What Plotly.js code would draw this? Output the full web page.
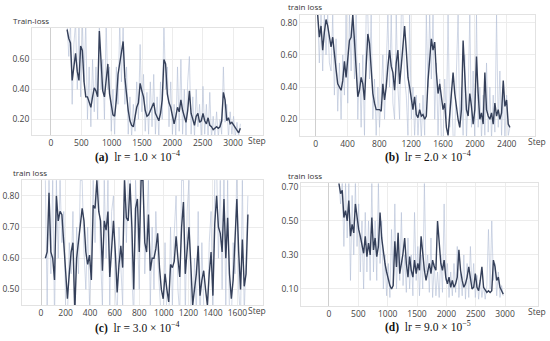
<!DOCTYPE html>
<html><head><meta charset="utf-8">
<script src="https://cdn.plot.ly/plotly-3.0.1.min.js"></script>
<style>html,body{margin:0;padding:0;background:#fff}#c{width:550px;height:341px}</style>
</head><body><div id="c"></div>
<script>
// ---------- data ----------
const stepsA = [265,293,321,349,377,405,433,461,489,517,545,573,601,629,657,685,713,741,769,797,825,853,881,909,937,965,993,1021,1049,1077,1105,1133,1161,1189,1217,1245,1273,1301,1329,1357,1385,1413,1441,1469,1497,1525,1553,1581,1609,1637,1665,1693,1721,1749,1777,1805,1833,1861,1889,1917,1945,1973,2001,2029,2057,2085,2113,2141,2169,2197,2225,2253,2281,2309,2337,2365,2393,2421,2449,2477,2505,2533,2561,2589,2617,2645,2673,2701,2729,2757,2785,2813,2841,2869,2897,2925,2953,2981,3009,3037,3065,3093,3121];
const smoothA = [0.80,0.74,0.71,0.46,0.55,0.64,0.52,0.46,0.69,0.66,0.45,0.35,0.35,0.31,0.28,0.35,0.41,0.39,0.35,0.79,
0.55,0.39,0.35,0.46,0.57,0.37,0.28,0.23,0.22,0.33,0.50,0.57,0.64,0.72,0.48,0.35,0.26,0.19,0.16,0.15,
0.22,0.28,0.31,0.44,0.39,0.35,0.26,0.22,0.23,0.26,0.28,0.31,0.24,0.21,0.19,0.24,0.33,0.60,0.57,0.37,
0.31,0.28,0.23,0.17,0.22,0.28,0.25,0.33,0.26,0.22,0.18,0.26,0.39,0.24,0.19,0.16,0.22,0.24,0.18,0.19,
0.24,0.19,0.17,0.21,0.16,0.15,0.13,0.14,0.15,0.14,0.15,0.19,0.38,0.33,0.19,0.21,0.17,0.18,0.16,0.14,0.13,0.11,0.14];
const rawA = [0.85,0.62,0.85,0.30,0.70,0.85,0.40,0.85,0.35,0.85,0.45,0.85,0.20,0.55,0.15,0.60,0.25,0.55,0.20,0.85,
0.40,0.60,0.20,0.85,0.40,0.55,0.12,0.40,0.10,0.55,0.30,0.85,0.45,0.85,0.30,0.55,0.10,0.35,0.08,0.30,
0.12,0.45,0.20,0.70,0.25,0.50,0.12,0.38,0.10,0.45,0.15,0.50,0.10,0.35,0.08,0.45,0.20,0.85,0.40,0.55,
0.15,0.45,0.10,0.30,0.08,0.55,0.12,0.60,0.10,0.40,0.08,0.45,0.62,0.10,0.35,0.08,0.40,0.15,0.30,0.08,
0.42,0.10,0.30,0.08,0.38,0.07,0.22,0.08,0.25,0.08,0.20,0.10,0.55,0.18,0.30,0.08,0.25,0.10,0.22,0.08,0.18,0.08,0.17];

const stepsB = [25,46,67,88,109,130,151,172,193,214,235,256,277,298,319,340,361,382,403,424,445,466,487,508,529,550,571,592,613,634,655,676,697,718,739,760,781,802,823,844,865,886,907,928,949,970,991,1012,1033,1054,1075,1096,1117,1138,1159,1180,1201,1222,1243,1264,1285,1306,1327,1348,1369,1390,1411,1432,1453,1474,1495,1516,1537,1558,1579,1600,1621,1642,1663,1684,1705,1726,1747,1768,1789,1810,1831,1852,1873,1894,1915,1936,1957,1978,1999,2020,2041,2062,2083,2104,2125,2146,2167,2188,2209,2230,2251,2272,2293,2314,2335,2356,2377,2398,2419,2440];
const smoothB = [0.85,0.71,0.78,0.63,0.74,0.82,0.78,0.71,0.65,0.71,0.59,0.51,0.42,0.40,0.38,0.44,0.56,0.46,0.59,0.69,
0.71,0.85,0.69,0.53,0.34,0.38,0.46,0.42,0.32,0.53,0.73,0.67,0.53,0.36,0.30,0.26,0.26,0.26,0.25,0.42,
0.32,0.40,0.53,0.63,0.53,0.49,0.38,0.55,0.63,0.42,0.53,0.67,0.78,0.63,0.46,
0.40,0.32,0.26,0.34,0.23,0.21,0.26,0.22,0.23,0.20,0.22,0.44,0.59,0.70,0.63,0.68,0.49,0.36,0.42,0.32,
0.26,0.30,0.15,0.10,0.22,0.32,0.49,0.36,0.26,0.20,0.15,0.26,0.69,0.42,0.26,0.22,0.36,0.28,0.17,0.26,
0.59,0.36,0.20,0.24,0.17,0.49,0.26,0.22,0.20,0.24,0.17,0.30,0.22,0.26,0.20,0.24,0.44,0.28,0.32,0.17,0.15];
const rawB = [0.85,0.55,0.85,0.50,0.85,0.60,0.85,0.55,0.50,0.85,0.35,0.70,0.25,0.55,0.20,0.60,0.35,0.85,0.30,0.85,
0.50,0.85,0.45,0.85,0.20,0.55,0.15,0.60,0.10,0.85,0.85,0.45,0.85,0.20,0.45,0.10,0.40,0.15,0.35,0.60,
0.20,0.55,0.85,0.40,0.85,0.30,0.20,0.85,0.40,0.20,0.85,0.85,0.45,0.35,0.10,0.85,0.20,0.40,0.10,0.35,
0.10,0.30,0.08,0.35,0.10,0.85,0.40,0.85,0.45,0.85,0.20,0.55,0.10,0.45,0.08,0.05,0.45,0.20,0.85,0.15,
0.40,0.10,0.08,0.50,0.85,0.15,0.40,0.10,0.60,0.08,0.35,0.85,0.15,0.50,0.08,0.85,0.15,0.40,0.08,0.35,
0.10,0.55,0.12,0.40,0.08,0.35,0.12,0.85,0.15,0.50,0.10,0.40,0.08,0.35,0.10,0.15];

const stepsC = [35,50,65,80,95,110,125,140,155,170,185,200,215,230,245,260,275,290,305,320,335,350,365,380,395,410,425,440,455,470,485,500,515,530,545,560,575,590,605,620,635,650,665,680,695,710,725,740,755,770,785,800,815,830,845,860,875,890,905,920,935,950,965,980,995,1010,1025,1040,1055,1070,1085,1100,1115,1130,1145,1160,1175,1190,1205,1220,1235,1250,1265,1280,1295,1310,1325,1340,1355,1370,1385,1400,1415,1430,1445,1460,1475,1490,1505,1520,1535,1550,1565,1580,1595,1610,1625,1640,1655,1670,1685];
const smoothC = [0.60,0.62,0.81,0.62,0.60,0.53,0.80,0.72,0.75,0.74,0.65,0.55,0.47,0.55,0.62,0.65,0.43,0.60,0.65,0.70,
0.76,0.72,0.62,0.58,0.61,0.53,0.77,0.76,0.85,0.75,0.72,0.56,0.72,0.69,0.75,0.54,0.65,0.72,0.62,0.49,
0.58,0.64,0.57,0.85,0.73,0.72,0.84,0.70,0.50,0.76,0.79,0.62,0.85,0.85,0.65,0.62,0.74,0.56,0.60,0.60,
0.63,0.68,0.57,0.50,0.47,0.55,0.50,0.46,0.58,0.57,0.59,0.67,0.60,0.54,0.70,0.78,0.55,0.62,0.70,0.58,
0.45,0.50,0.55,0.64,0.48,0.53,0.56,0.50,0.45,0.55,0.62,0.48,0.71,0.80,0.70,0.68,0.62,0.79,0.60,0.73,
0.55,0.47,0.53,0.66,0.79,0.62,0.50,0.66,0.51,0.55,0.74];
const rawC = [0.85,0.45,0.85,0.55,0.85,0.40,0.85,0.60,0.85,0.65,0.75,0.45,0.40,0.65,0.55,0.75,0.38,0.70,0.55,0.85,
0.85,0.62,0.50,0.70,0.45,0.60,0.85,0.65,0.90,0.85,0.60,0.45,0.85,0.60,0.85,0.45,0.75,0.80,0.50,0.40,
0.70,0.55,0.45,0.90,0.65,0.85,0.90,0.55,0.40,0.85,0.70,0.50,0.90,0.90,0.55,0.70,0.85,0.45,0.70,0.50,
0.75,0.60,0.45,0.40,0.38,0.65,0.40,0.38,0.70,0.45,0.68,0.80,0.50,0.42,0.85,0.85,0.42,0.75,0.85,0.45,
0.38,0.60,0.42,0.75,0.38,0.65,0.45,0.40,0.38,0.65,0.75,0.40,0.85,0.90,0.60,0.85,0.50,0.90,0.45,0.85,
0.42,0.38,0.65,0.55,0.90,0.50,0.40,0.85,0.42,0.65,0.80];

const stepsD = [170,198,226,254,282,310,338,366,394,422,450,478,506,534,562,590,618,646,674,702,730,758,786,814,842,870,898,926,954,982,1010,1038,1066,1094,1122,1150,1178,1206,1234,1262,1290,1318,1346,1374,1402,1430,1458,1486,1514,1542,1570,1598,1626,1654,1682,1710,1738,1766,1794,1822,1850,1878,1906,1934,1962,1990,2018,2046,2074,2102,2130,2158,2186,2214,2242,2270,2298,2326,2354,2382,2410,2438,2466,2494,2522,2550,2578,2606,2634,2662,2690,2718,2746,2774,2802,2830,2858,2886,2914,2942,2970];
const smoothD = [0.72,0.66,0.68,0.52,0.56,0.50,0.62,0.41,0.48,0.43,0.60,0.52,0.45,0.41,0.35,0.31,0.41,0.29,
0.37,0.30,0.52,0.33,0.40,0.29,0.35,0.55,0.40,0.31,0.25,0.20,0.15,0.12,0.10,0.12,0.38,0.23,0.43,0.19,
0.25,0.31,0.40,0.25,0.17,0.29,0.21,0.17,0.27,0.19,0.25,0.21,0.41,0.29,0.21,0.15,0.21,0.25,0.19,0.27,
0.23,0.21,0.50,0.37,0.25,0.21,0.27,0.17,0.13,0.17,0.11,0.15,0.11,0.13,0.17,0.33,0.21,0.15,0.11,0.13,
0.17,0.23,0.15,0.10,0.11,0.19,0.11,0.09,0.15,0.23,0.11,0.09,0.08,0.09,0.08,0.09,0.27,0.23,0.15,0.17,
0.11,0.09,0.07];
const rawD = [0.72,0.60,0.72,0.35,0.72,0.40,0.72,0.15,0.65,0.30,0.72,0.35,0.60,0.20,0.50,0.10,0.55,0.20,0.50,0.15,
0.72,0.20,0.50,0.15,0.72,0.25,0.50,0.10,0.30,0.06,0.25,0.05,0.45,0.12,0.60,0.10,0.35,0.15,0.55,0.12,
0.30,0.08,0.40,0.10,0.30,0.06,0.55,0.15,0.35,0.06,0.30,0.10,0.72,0.20,0.30,0.08,0.40,0.05,0.25,0.06,
0.20,0.05,0.30,0.08,0.60,0.15,0.25,0.05,0.20,0.06,0.25,0.08,0.35,0.05,0.20,0.06,0.30,0.04,0.25,0.05,
0.35,0.10,0.25,0.05,0.18,0.04,0.15,0.05,0.12,0.04,0.12,0.45,0.10,0.50,0.15,0.25,0.06,0.20,0.05,0.12,0.06];

const xTicksA = [0,500,1000,1500,2000,2500,3000];
const xTicksB = [0,400,800,1200,1600,2000,2400];
const xTicksC = [0,200,400,600,800,1000,1200,1400,1600];
const xTicksD = [0,500,1000,1500,2000,2500,3000];
const yTicksA = [0.20,0.40,0.60];
const yTicksB = [0.20,0.40,0.60,0.80];
const yTicksC = [0.50,0.60,0.70,0.80];
const yTicksD = [0.10,0.30,0.50,0.70];
const yTitles = ['Train-loss','train loss','train loss','train loss'];
const captions = ['<b>(a)</b>  lr = 1.0 × 10<sup>−4</sup>','<b>(b)</b>  lr = 2.0 × 10<sup>−4</sup>','<b>(c)</b>  lr = 3.0 × 10<sup>−4</sup>','<b>(d)</b>  lr = 9.0 × 10<sup>−5</sup>'];

// ---------- layout ----------
const W = 550, H = 341;
const RAW = 'rgba(178,190,214,0.6)', DARK = '#35405a';
const panels = [
  {s:stepsA, r:rawA, m:smoothA, xt:xTicksA, yt:yTicksA, px:[32,263], py:[28,135], xr:[-313,3494], yr:[0.095,0.81],
   title:[11,21], step:[257,140], cap:[137,156]},
  {s:stepsB, r:rawB, m:smoothB, xt:xTicksB, yt:yTicksB, px:[300,535], py:[15,136], xr:[-197,2755], yr:[0.096,0.848],
   title:[286,7], step:[537,141], cap:[428,156]},
  {s:stepsC, r:rawC, m:smoothC, xt:xTicksC, yt:yTicksC, px:[22,263], py:[180,305], xr:[-155,1808], yr:[0.45,0.851],
   title:[11,172], step:[257,310], cap:[137,327]},
  {s:stepsD, r:rawD, m:smoothD, xt:xTicksD, yt:yTicksD, px:[301,538], py:[183,306], xr:[-477,3562], yr:[0.0,0.723],
   title:[286,175], step:[537,311], cap:[428,326]}
];
const traces = [], annotations = [];
const layout = {width:W, height:H, margin:{l:0,r:0,t:0,b:0}, showlegend:false,
  paper_bgcolor:'#fff', plot_bgcolor:'#fff', font:{family:'Open Sans, sans-serif', size:8.5, color:'#444'}};
panels.forEach((p,i)=>{
  const n = i===0 ? '' : String(i+1);
  traces.push({x:p.s, y:p.r, xaxis:'x'+n, yaxis:'y'+n, type:'scatter', mode:'lines', line:{color:RAW,width:1}, hoverinfo:'skip'});
  traces.push({x:p.s, y:p.m, xaxis:'x'+n, yaxis:'y'+n, type:'scatter', mode:'lines', line:{color:DARK,width:1.4}});
  const common = {showgrid:true, gridcolor:'#ececec', gridwidth:1, showline:true, mirror:true, linecolor:'#e2e2e2', ticks:'',
    tickfont:{family:'Open Sans, sans-serif', size:8.5, color:'#444'}, fixedrange:true};
  layout['xaxis'+n] = Object.assign({}, common, {domain:[p.px[0]/W, p.px[1]/W], range:p.xr, tickmode:'array', tickvals:p.xt,
    anchor:'y'+n, zeroline:true, zerolinecolor:'#cfcfcf', zerolinewidth:1});
  layout['yaxis'+n] = Object.assign({}, common, {domain:[1-p.py[1]/H, 1-p.py[0]/H], range:p.yr, tickmode:'array', tickvals:p.yt,
    tickformat:'.2f', anchor:'x'+n, zeroline:false});
  annotations.push({xref:'paper', yref:'paper', x:p.title[0]/W, y:1-p.title[1]/H, xanchor:'left', yanchor:'middle', showarrow:false,
    text:yTitles[i], font:{family:'Open Sans, sans-serif', size:8, color:'#333'}});
  annotations.push({xref:'paper', yref:'paper', x:p.step[0]/W, y:1-p.step[1]/H, xanchor:'center', yanchor:'middle', showarrow:false,
    text:'Step', font:{family:'Open Sans, sans-serif', size:8.5, color:'#444'}});
  annotations.push({xref:'paper', yref:'paper', x:p.cap[0]/W, y:1-p.cap[1]/H, xanchor:'center', yanchor:'middle', showarrow:false,
    text:captions[i], font:{family:'Liberation Serif, serif', size:11.5, color:'#111'}});
});
layout.annotations = annotations;
Plotly.newPlot('c', traces, layout, {staticPlot:true, displayModeBar:false});
</script></body></html>
